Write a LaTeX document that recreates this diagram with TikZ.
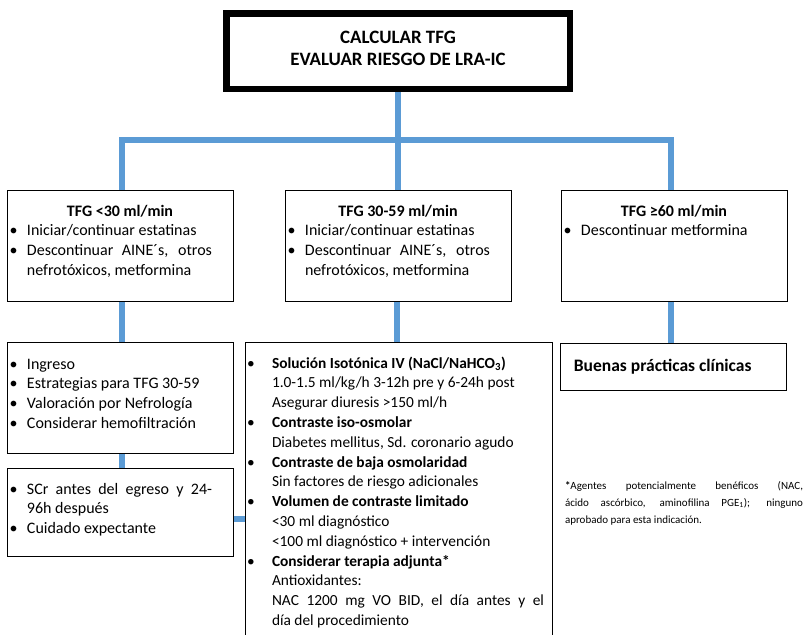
\documentclass[tikz,border=0pt]{standalone}
\usepackage{fontspec}
\setmainfont{Carlito}
\usetikzlibrary{backgrounds}
\definecolor{linkblue}{HTML}{5B9BD5}

% bullet geometry inside a box: bullet offset and text offset from the left border
\newlength\bx
\newlength\tx
\newcommand\pt[1]{\mbox{\hspace*{\bx}\makebox[\dimexpr\tx-\bx\relax][l]{\textbullet}#1}}
\newcommand\cont[1]{\mbox{\hspace*{\tx}#1}}
\newcommand\firstline[1]{\rule{0pt}{#1}}
\newcommand\bodyfont{\fontsize{16pt}{19.8pt}\selectfont}

\begin{document}
\begin{tikzpicture}[x=1pt,y=-1pt,
  box/.style={draw=black,line width=1pt,inner sep=0pt,outer sep=0pt,anchor=north west},
  headbox/.style={draw=black,line width=6.5pt,inner sep=0pt,outer sep=0pt,anchor=north west},
  conn/.style={draw=linkblue,line width=6pt,line join=miter}]
\useasboundingbox (0,0) rectangle (804,635);
\clip (0,0) rectangle (804,635);

% header
\node[headbox] (top) at (226.25,13.25) {\parbox[b][75.5pt][t]{343.5pt}{%
  \fontsize{18.9pt}{22.5pt}\selectfont\bfseries
  \firstline{30pt}\makebox[343.5pt]{CALCULAR TFG}\\
  \makebox[343.5pt]{EVALUAR RIESGO DE LRA-IC}}};

% first level: GFR ranges
\node[box] (b1) at (7,190) {\parbox[b][111pt][t]{226pt}{\bodyfont
  \setlength\bx{2.5pt}\setlength\tx{20pt}%
  \firstline{26pt}\makebox[226pt]{\textbf{TFG <30 ml/min}}\\
  \pt{Iniciar/continuar estatinas}\\
  \pt{\makebox[185pt][s]{Descontinuar AINE´s, otros}}\\
  \cont{nefrotóxicos, metformina}}};

\node[box] (b2) at (285,190) {\parbox[b][111pt][t]{226pt}{\bodyfont
  \setlength\bx{2.5pt}\setlength\tx{20pt}%
  \firstline{26pt}\makebox[226pt]{\textbf{TFG 30-59 ml/min}}\\
  \pt{Iniciar/continuar estatinas}\\
  \pt{\makebox[185pt][s]{Descontinuar AINE´s, otros}}\\
  \cont{nefrotóxicos, metformina}}};

\node[box] (b3) at (561,190) {\parbox[b][111pt][t]{226pt}{\bodyfont
  \setlength\bx{2.5pt}\setlength\tx{20pt}%
  \firstline{26pt}\makebox[226pt]{\textbf{TFG ≥60 ml/min}}\\
  \pt{Descontinuar metformina}}};

% second level
\node[box] (c1) at (7,342) {\parbox[b][111pt][t]{226pt}{\bodyfont
  \setlength\bx{2.5pt}\setlength\tx{20pt}%
  \firstline{27pt}\pt{Ingreso}\\
  \pt{Estrategias para TFG 30-59}\\
  \pt{Valoración por Nefrología}\\
  \pt{Considerar hemofiltración}}};

\node[box] (d1) at (7,468) {\parbox[b][88pt][t]{226pt}{\bodyfont
  \setlength\bx{2.5pt}\setlength\tx{20pt}%
  \firstline{26pt}\pt{\makebox[185pt][s]{SCr antes del egreso y 24-}}\\
  \cont{96h después}\\
  \pt{Cuidado expectante}}};

\node[box] (c2) at (245,342) {\parbox[b][310pt][t]{307pt}{%
  \fontsize{15.4pt}{19.8pt}\selectfont
  \setlength\bx{2pt}\setlength\tx{27pt}%
  \firstline{26pt}\pt{\textbf{Solución Isotónica IV (NaCl/NaHCO\textsubscript{3})}}\\
  \cont{1.0-1.5 ml/kg/h 3-12h pre y 6-24h post}\\
  \cont{Asegurar diuresis >150 ml/h}\\
  \pt{\textbf{Contraste iso-osmolar}}\\
  \cont{Diabetes mellitus, Sd. coronario agudo}\\
  \pt{\textbf{Contraste de baja osmolaridad}}\\
  \cont{Sin factores de riesgo adicionales}\\
  \pt{\textbf{Volumen de contraste limitado}}\\
  \cont{<30 ml diagnóstico}\\
  \cont{<100 ml diagnóstico + intervención}\\
  \pt{\textbf{Considerar terapia adjunta*}}\\
  \cont{Antioxidantes:}\\
  \cont{\makebox[272pt][s]{NAC 1200 mg VO BID, el día antes y el}}\\
  \cont{día del procedimiento}}};

\node[box] (c3) at (560,343) {\parbox[b][47pt][t]{226pt}{%
  \fontsize{17.5pt}{20pt}\selectfont
  \firstline{28pt}\makebox[226pt]{\hspace*{-20.6pt}\textbf{Buenas prácticas clínicas}}}};

% footnote
\node[inner sep=0pt,outer sep=0pt,anchor=north west] (fn) at (565,477.5) {\parbox[b]{238pt}{%
  \fontsize{11pt}{17pt}\selectfont
  \firstline{11.8pt}\makebox[238pt][s]{\textbf{*}Agentes potencialmente benéficos (NAC,}\\
  \makebox[238pt][s]{ácido ascórbico, aminofilina PGE\textsubscript{1}); ninguno}\\
  aprobado para esta indicación.}};

% connectors
\coordinate (hb) at (0,139.5);
\begin{scope}[on background layer]
\draw[conn] (top.south) -- (b2.north);
\draw[conn] ([xshift=1.5pt]b1.north) |- ([xshift=-3pt]b3.north |- hb) -- ([xshift=-3pt]b3.north);
\draw[conn] ([xshift=1.5pt]b1.south) -- ([xshift=1.5pt]b1.south |- c1.north);
\draw[conn] ([xshift=-1pt]b2.south) -- ([xshift=-1pt]b2.south |- c2.north);
\draw[conn] ([xshift=-3pt]b3.south) -- ([xshift=-3pt]b3.south |- c3.north);
\draw[conn] ([xshift=2pt]c1.south) -- ([xshift=2pt]c1.south |- d1.north);
\draw[conn] ([yshift=-7pt]d1.east) -- ([yshift=-7pt]d1.east -| c2.west);
\end{scope}
\end{tikzpicture}
\end{document}
